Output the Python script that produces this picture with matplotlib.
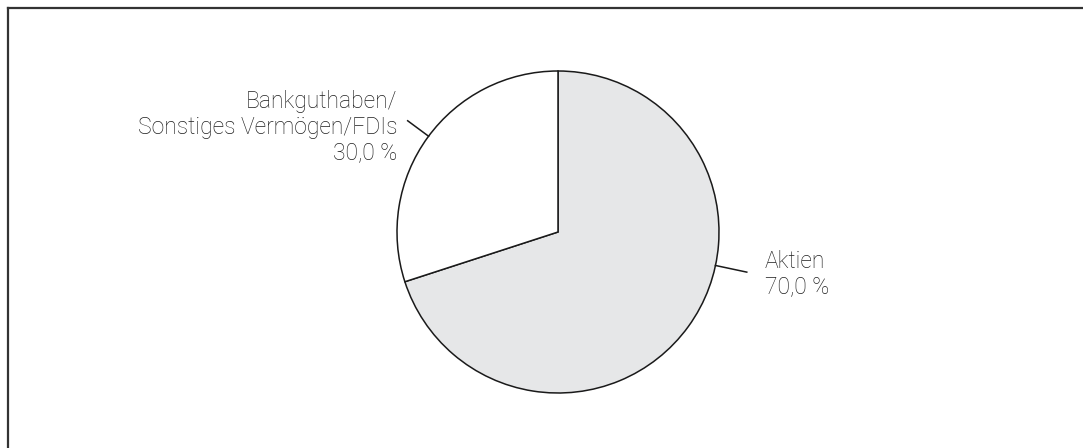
import numpy as np
import matplotlib.pyplot as plt
from matplotlib.lines import Line2D

plt.rcParams['font.family'] = ['Roboto', 'DejaVu Sans']

# data
labels = ['Aktien', 'Bankguthaben/\nSonstiges Vermögen/FDIs']
shares = [70.0, 30.0]
colors = ['#e6e7e8', '#ffffff']

W, H = 1083, 448
fig = plt.figure(figsize=(W / 100, H / 100), dpi=100)
ax = fig.add_axes([0, 0, 1, 1])

cx, cy, r = 558, 216, 161
ax.pie(shares, colors=colors, startangle=90, counterclock=False,
       center=(cx, cy), radius=r, frame=True,
       wedgeprops=dict(edgecolor='#1a1a1a', linewidth=1.1))
ax.set_xlim(0, W)
ax.set_ylim(0, H)
ax.set_aspect('equal')
ax.axis('off')

def pct(v):
    return f'{v:.1f}'.replace('.', ',') + ' %'

# leader lines + labels
def leader(ang, r1, r2):
    a = np.radians(ang)
    ax.plot([cx + r1 * np.cos(a), cx + r2 * np.cos(a)],
            [cy + r1 * np.sin(a), cy + r2 * np.sin(a)],
            color='#1a1a1a', lw=1.1)

txt = dict(fontsize=16.5, fontweight='light', color='#1f1f1f', linespacing=1.16)

leader(-12, r, 193)
ax.text(765, 448 - 274, labels[0] + '\n' + pct(shares[0]), ha='left', va='center', **txt)

leader(143.5, r, 187)
ax.text(397, 448 - 127, labels[1] + '\n' + pct(shares[1]), ha='right', va='center',
        multialignment='right', **txt)

# frame lines (top and left only)
fig.add_artist(Line2D([8 / W, 1], [1 - 8 / H, 1 - 8 / H], color='#333333', lw=1.6))
fig.add_artist(Line2D([8 / W, 8 / W], [0, 1 - 8 / H], color='#333333', lw=1.6))

fig.savefig('out.png', dpi=100)
